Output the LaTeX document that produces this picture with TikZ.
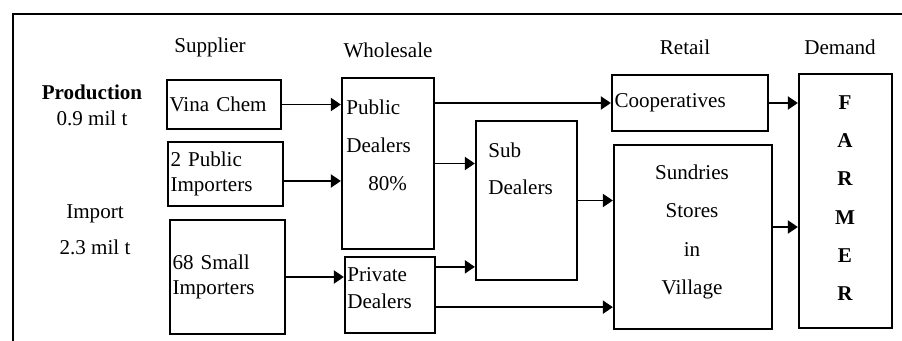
\documentclass[tikz,border=0pt]{standalone}
\usepackage{fontspec}
\setmainfont{Liberation Serif}
\usetikzlibrary{arrows.meta}
\begin{document}
\begin{tikzpicture}[
  x=0.02cm, y=-0.02cm,
  font=\fontsize{12}{14.5}\selectfont,
  box/.style={draw=black, line width=1.3pt, inner sep=0pt},
  lbox/.style={box, align=left, inner xsep=0.05cm},
  heading/.style={inner sep=0pt},
  boxtext/.style={inner sep=0pt, align=left},
  flow/.style={-{Triangle[length=2mm, width=2.6mm]}, line width=1.1pt}
]
\useasboundingbox (0,0) rectangle (902,341);
\draw[line width=1pt] (13,341) -- (13,14) -- (902,14);

\node[heading] (supplier) at (210,47) {Supplier};
\node[heading] (wholesale) at (388,50) {Wholesale};
\node[heading] (retail) at (685,47) {Retail};
\node[heading] (demand) at (840,47) {Demand};

\node[heading, align=center, font=\fontsize{12}{14.7}\selectfont] (production)
  at (92,105) {\textbf{Production}\\0.9 mil t};
\node[heading, align=center, font=\fontsize{12}{20.4}\selectfont] (import)
  at (95,230) {Import\\2.3 mil t};

\node[lbox, minimum width=2.28cm, minimum height=0.98cm, text width=2.18cm]
  (vina) at (224,104.5) {Vina Chem};
\node[lbox, minimum width=2.30cm, minimum height=1.28cm, text width=2.20cm]
  (pubimp) at (225.5,174) {2 Public\\Importers};
\node[lbox, minimum width=2.30cm, minimum height=2.28cm, text width=2.20cm]
  (smallimp) at (227.5,277) {68 Small\\Importers};

\node[box, minimum width=1.84cm, minimum height=3.42cm] (pubdeal) at (388,163.5) {};
\node[boxtext, anchor=west, font=\fontsize{12}{21.6}\selectfont] (pubdealtext)
  at (346,145) {Public\\Dealers\\\hspace*{0.44cm}80\%};
\node[box, minimum width=1.80cm, minimum height=1.52cm] (privdeal) at (390,295) {};
\node[boxtext, anchor=west, font=\fontsize{12}{15.3}\selectfont] (privdealtext)
  at (347,288.5) {Private\\Dealers};

\node[box, minimum width=2.02cm, minimum height=3.18cm] (subdeal) at (526.5,200.5) {};
\node[boxtext, anchor=west, font=\fontsize{12}{21}\selectfont] (subdealtext)
  at (488,168.5) {Sub\\Dealers};

\node[lbox, minimum width=3.12cm, minimum height=1.12cm, text width=3.02cm]
  (coop) at (690,103) {Cooperatives};
\node[box, minimum width=3.16cm, minimum height=3.68cm] (sundries) at (693,237) {};
\node[boxtext, align=center, font=\fontsize{12}{21.7}\selectfont] (sundriestext)
  at (692,232) {Sundries\\Stores\\in\\Village};

\node[box, minimum width=1.86cm, minimum height=5.08cm] (farmer) at (845.5,201) {};
\node[boxtext, align=center, font=\bfseries\fontsize{12}{21.8}\selectfont] (farmertext)
  at (845,198) {F\\A\\R\\M\\E\\R};

\draw[flow] (vina.east) -- (vina.east -| pubdeal.west);
\draw[flow] ([yshift=-0.14cm]pubimp.east) -- ([yshift=-0.14cm]pubimp.east -| pubdeal.west);
\draw[flow] (smallimp.east) -- (smallimp.east -| privdeal.west);
\draw[flow] (pubdeal.east |- coop.west) -- (coop.west);
\draw[flow] (pubdeal.east) -- (pubdeal.east -| subdeal.west);
\draw[flow] ([yshift=-0.22cm]privdeal.north east) -- ([yshift=-0.22cm]privdeal.north east -| subdeal.west);
\draw[flow] ([yshift=0.54cm]privdeal.south east) -- ([yshift=0.54cm]privdeal.south east -| sundries.west);
\draw[flow] (subdeal.east) -- (subdeal.east -| sundries.west);
\draw[flow] (coop.east) -- (coop.east -| farmer.west);
\draw[flow] ([yshift=0.2cm]sundries.east) -- ([yshift=0.2cm]sundries.east -| farmer.west);
\end{tikzpicture}
\end{document}
